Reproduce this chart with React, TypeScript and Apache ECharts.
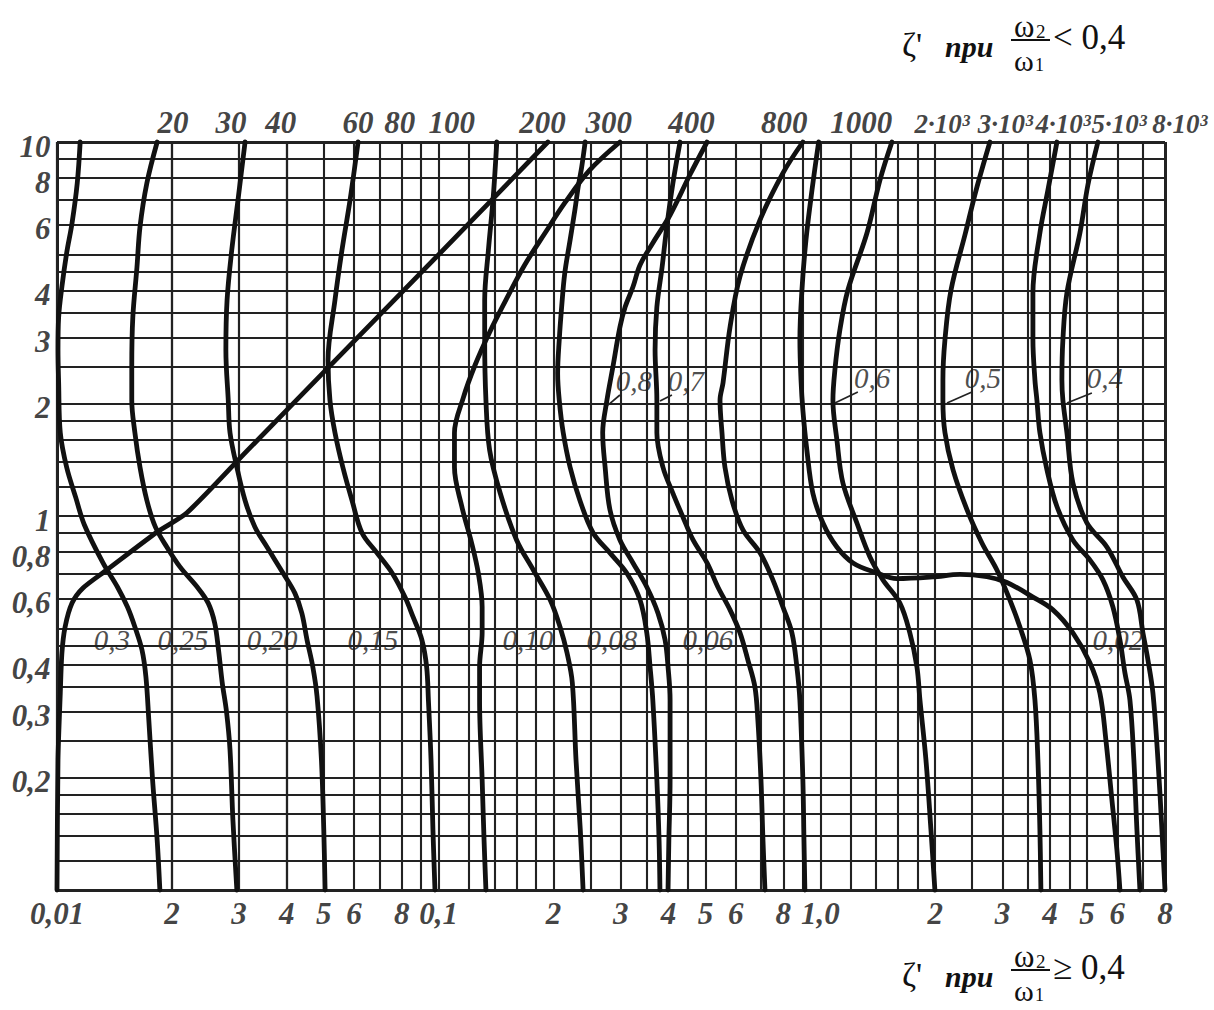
import React, { useEffect, useRef } from "react";
import * as echarts from "echarts";

// ---------------- data ----------------
const xGridLines = [0.01, 0.012, 0.014, 0.016, 0.018, 0.02, 0.025, 0.03, 0.035, 0.04, 0.045, 0.05, 0.06, 0.07, 0.08, 0.09,
  0.1, 0.12, 0.14, 0.16, 0.18, 0.2, 0.25, 0.3, 0.35, 0.4, 0.45, 0.5, 0.6, 0.7, 0.8, 0.9,
  1, 1.2, 1.4, 1.6, 1.8, 2, 2.5, 3, 3.5, 4, 4.5, 5, 6, 7, 8];
const yGridLines = [0.1, 0.12, 0.14, 0.16, 0.18, 0.2, 0.25, 0.3, 0.35, 0.4, 0.45, 0.5, 0.6, 0.7, 0.8, 0.9,
  1, 1.2, 1.4, 1.6, 1.8, 2, 2.5, 3, 3.5, 4, 4.5, 5, 6, 7, 8, 9, 10];
const frameX = [0.01, 8];
const frameY = [0.1, 10];

const bottomTickValues = [0.01, 0.02, 0.03, 0.04, 0.05, 0.06, 0.08, 0.1, 0.2, 0.3, 0.4, 0.5, 0.6, 0.8, 1, 2, 3, 4, 5, 6, 8];
const bottomTickLabels = ["0,01", "2", "3", "4", "5", "6", "8", "0,1", "2", "3", "4", "5", "6", "8", "1,0", "2", "3", "4", "5", "6", "8"];
const leftTickValues = [10, 8, 6, 4, 3, 2, 1, 0.8, 0.6, 0.4, 0.3, 0.2];
const leftTickLabels = ["10", "8", "6", "4", "3", "2", "1", "0,8", "0,6", "0,4", "0,3", "0,2"];
const topTickValues = [0.02, 0.03, 0.04, 0.06, 0.08, 0.1, 0.2, 0.3, 0.4, 0.8, 1, 2, 3, 4, 5, 8];
const topTickLabels = ["20", "30", "40", "60", "80", "100", "200", "300", "400", "800", "1000", "2·10³", "3·10³", "4·10³", "5·10³", "8·10³"];

const curve03 = [[0.0115, 10], [0.0113, 7.77], [0.01095, 6.07], [0.0106, 5.05], [0.0103, 4.1], [0.0101, 3.4], [0.01006, 2.78], [0.0101, 2.27], [0.0102, 1.67], [0.0106, 1.35], [0.0112, 1.12], [0.0118, 0.946], [0.0132, 0.749], [0.0144, 0.646], [0.0153, 0.571], [0.016, 0.505], [0.0167, 0.438], [0.0171, 0.371], [0.0174, 0.285], [0.0178, 0.197], [0.0183, 0.136], [0.0186, 0.1]];
const curve025 = [[0.0183, 10], [0.0172, 7.77], [0.0165, 5.93], [0.0162, 4.63], [0.0158, 3.4], [0.0157, 2.5], [0.0157, 2.04], [0.016, 1.67], [0.0165, 1.35], [0.0172, 1.1], [0.0181, 0.935], [0.0194, 0.826], [0.021, 0.731], [0.0233, 0.646], [0.0249, 0.585], [0.0259, 0.517], [0.0265, 0.438], [0.0271, 0.358], [0.0278, 0.3], [0.0284, 0.237], [0.0289, 0.154], [0.0296, 0.1]];
const curve020 = [[0.0311, 10], [0.0298, 7.0], [0.0287, 5.14], [0.0279, 3.78], [0.0277, 2.78], [0.0281, 2.04], [0.0284, 1.67], [0.0296, 1.35], [0.0311, 1.1], [0.033, 0.935], [0.0355, 0.826], [0.0391, 0.704], [0.042, 0.622], [0.0438, 0.55], [0.0452, 0.466], [0.0468, 0.395], [0.048, 0.33], [0.0493, 0.223], [0.05, 0.145], [0.0504, 0.1]];
const curve015 = [[0.0615, 10], [0.0586, 7.0], [0.0558, 5.14], [0.0535, 3.78], [0.0513, 2.61], [0.0519, 2.04], [0.0535, 1.67], [0.0561, 1.35], [0.0593, 1.1], [0.063, 0.901], [0.0689, 0.797], [0.0755, 0.704], [0.0816, 0.607], [0.0857, 0.537], [0.0904, 0.466], [0.093, 0.395], [0.094, 0.322], [0.0955, 0.223], [0.0966, 0.145], [0.0978, 0.1]];
const curve010 = [[0.142, 10], [0.139, 7.13], [0.135, 5.14], [0.132, 3.78], [0.132, 2.96], [0.133, 2.04], [0.136, 1.5], [0.145, 1.15], [0.16, 0.863], [0.177, 0.717], [0.196, 0.596], [0.208, 0.505], [0.217, 0.43], [0.224, 0.358], [0.229, 0.223], [0.235, 0.145], [0.239, 0.1]];
const curve008 = [[0.242, 10], [0.237, 8.57], [0.232, 7.58], [0.2275, 6.58], [0.221, 5.47], [0.214, 4.46], [0.21, 3.62], [0.207, 2.96], [0.205, 2.41], [0.207, 2.04], [0.212, 1.67], [0.221, 1.35], [0.2345, 1.1], [0.254, 0.901], [0.281, 0.797], [0.311, 0.704], [0.337, 0.596], [0.351, 0.487], [0.358, 0.395], [0.364, 0.322], [0.373, 0.197], [0.378, 0.136], [0.38, 0.1]];
const curve08 = [[0.505, 10], [0.455, 8.16], [0.404, 6.38], [0.364, 5.37], [0.337, 4.69], [0.323, 4.1], [0.308, 3.62], [0.2985, 3.2], [0.286, 2.5], [0.276, 2.04], [0.269, 1.67], [0.273, 1.35], [0.281, 1.04], [0.2985, 0.863], [0.323, 0.749], [0.351, 0.646], [0.3755, 0.55], [0.392, 0.466], [0.399, 0.395], [0.404, 0.322], [0.404, 0.197], [0.401, 0.136], [0.399, 0.1]];
const curve07 = [[0.429, 10], [0.411, 7.77], [0.396, 5.93], [0.385, 4.63], [0.373, 3.62], [0.369, 2.78], [0.373, 2.04], [0.373, 1.67], [0.387, 1.35], [0.411, 1.15], [0.4365, 0.994], [0.464, 0.863], [0.505, 0.749], [0.539, 0.646], [0.58, 0.561], [0.616, 0.487], [0.646, 0.412], [0.674, 0.349], [0.686, 0.285], [0.699, 0.197], [0.7075, 0.136], [0.716, 0.1]];
const curve006 = [[0.9, 10], [0.798, 8.26], [0.695, 6.19], [0.616, 4.37], [0.58, 3.2], [0.556, 2.27], [0.546, 2.04], [0.5525, 1.67], [0.5625, 1.35], [0.587, 1.1], [0.627, 0.918], [0.695, 0.797], [0.751, 0.675], [0.798, 0.571], [0.8425, 0.487], [0.868, 0.395], [0.884, 0.322], [0.9, 0.197], [0.906, 0.136], [0.911, 0.1]];
const curvePlateau = [[0.99, 10], [0.951, 7.44], [0.917, 5.47], [0.895, 4.02], [0.884, 2.96], [0.89, 2.31], [0.9, 1.92], [0.922, 1.5], [0.956, 1.15], [1.016, 0.958], [1.105, 0.826], [1.218, 0.749], [1.407, 0.704], [1.587, 0.68], [1.972, 0.687], [2.322, 0.698], [2.732, 0.688], [3.082, 0.664], [3.606, 0.607], [4.069, 0.561], [4.59, 0.487], [5.085, 0.405], [5.402, 0.336], [5.6, 0.252], [5.808, 0.174], [5.985, 0.128], [6.095, 0.1]];
const curve06 = [[1.54, 10], [1.433, 7.91], [1.325, 5.71], [1.181, 4.02], [1.125, 3.14], [1.092, 2.46], [1.079, 2.04], [1.105, 1.6], [1.146, 1.225], [1.247, 0.958], [1.349, 0.777], [1.459, 0.675], [1.616, 0.585], [1.716, 0.487], [1.791, 0.395], [1.824, 0.322], [1.891, 0.223], [1.949, 0.145], [1.996, 0.1]];
const curve05 = [[2.782, 10], [2.56, 7.44], [2.4, 5.71], [2.2, 4.02], [2.121, 2.96], [2.095, 2.31], [2.095, 2.04], [2.121, 1.67], [2.226, 1.33], [2.422, 1.04], [2.651, 0.847], [2.902, 0.717], [3.139, 0.596], [3.334, 0.505], [3.541, 0.412], [3.65, 0.322], [3.716, 0.223], [3.761, 0.145], [3.784, 0.1]];
const curve002 = [[4.168, 10], [3.948, 7.44], [3.761, 5.71], [3.606, 3.95], [3.606, 2.96], [3.65, 2.31], [3.694, 2.04], [3.761, 1.67], [3.924, 1.33], [4.168, 1.06], [4.59, 0.863], [5.085, 0.763], [5.501, 0.675], [5.843, 0.571], [6.095, 0.466], [6.281, 0.381], [6.474, 0.322], [6.63, 0.223], [6.753, 0.145], [6.877, 0.1]];
const curve04 = [[5.337, 10], [5.025, 7.68], [4.788, 5.71], [4.427, 3.95], [4.321, 2.96], [4.295, 2.31], [4.321, 2.04], [4.427, 1.67], [4.59, 1.225], [4.994, 0.958], [5.636, 0.826], [6.206, 0.687], [6.753, 0.596], [7.003, 0.487], [7.218, 0.412], [7.439, 0.336], [7.666, 0.223], [7.852, 0.145], [8.0, 0.1]];
const diagonal1 = [[0.1933, 10], [0.1, 5.0], [0.0515, 2.5], [0.0316, 1.5], [0.0219, 1.02], [0.0183, 0.906], [0.0135, 0.717], [0.0117, 0.642], [0.01095, 0.585], [0.0105, 0.505], [0.0103, 0.43], [0.0102, 0.336], [0.01006, 0.223], [0.01, 0.1]];
const diagonal2 = [[0.2985, 10], [0.249, 8.42], [0.214, 6.87], [0.19, 5.71], [0.168, 4.69], [0.151, 3.83], [0.136, 3.1], [0.1245, 2.53], [0.116, 2.07], [0.11, 1.67], [0.11, 1.35], [0.115, 1.06], [0.122, 0.847], [0.127, 0.704], [0.13, 0.571], [0.13, 0.487], [0.128, 0.395], [0.128, 0.322], [0.13, 0.197], [0.1315, 0.136], [0.133, 0.1]];

const curveParamLabels = ["0,3", "0,25", "0,20", "0,15", "0,10", "0,08", "0,06", "0,02", "0,8", "0,7", "0,6", "0,5", "0,4"];

// ---------------- layout (not data) ----------------
const allCurves = [curve03, curve025, curve020, curve015, curve010, curve008, curve08, curve07, curve006, curvePlateau, curve06, curve05, curve002, curve04, diagonal2];
const curveLabelAnchors = [[0.01393, 0.466], [0.02138, 0.466], [0.03659, 0.466], [0.06729, 0.466], [0.1714, 0.466], [0.2844, 0.466], [0.5077, 0.466], [6.02, 0.466],
  [0.3249, 2.296], [0.4446, 2.296], [1.366, 2.339], [2.667, 2.339], [5.568, 2.339]];
const leaderLines = [
  [[0.2985, 2.106], [0.2777, 1.98]],
  [[0.4085, 2.106], [0.3801, 2.03]],
  [[1.254, 2.145], [1.092, 2.005]],
  [[2.496, 2.145], [2.147, 2.005]],
  [[5.147, 2.133], [4.427, 2.005]],
];
const topTickShift = [1, -8, -6, 4, -2, 13, -11, -12, 23, 1, 41, 7, 3, 13, 32, 15];
const topTickSize = [31, 31, 31, 31, 31, 31, 31, 31, 31, 31, 31, 27, 27, 27, 27, 27];

const FONT = "'Liberation Serif', 'Times New Roman', serif";
const INK = "#111";

function txt(text: string, x: number, y: number, font: string, align = "left") {
  return {
    type: "text",
    x, y,
    silent: true,
    style: { text, font, fill: INK, align, verticalAlign: "middle", textAlign: align, textVerticalAlign: "middle" },
  };
}

function titleBlock(yc: number, relation: string) {
  return [
    txt("ζ'", 902, yc + 4, `34px ${FONT}`),
    txt("при", 945, yc + 6, `italic bold 30px ${FONT}`),
    txt("ω", 1014, yc - 14, `31px ${FONT}`),
    txt("2", 1036, yc - 9, `19px ${FONT}`),
    { type: "line", silent: true, shape: { x1: 1011, y1: yc, x2: 1050, y2: yc }, style: { stroke: INK, lineWidth: 1.8 } },
    txt("ω", 1014, yc + 20, `30px ${FONT}`),
    txt("1", 1035, yc + 25, `18px ${FONT}`),
    txt(relation, 1053, yc - 3, `35px ${FONT}`),
  ];
}

export default function App() {
  const ref = useRef<HTMLDivElement>(null);
  useEffect(() => {
    const chart = echarts.init(ref.current as HTMLDivElement, null, { renderer: "svg" });

    const gridMarks: any[] = [];
    xGridLines.forEach((v) => gridMarks.push({ xAxis: v, lineStyle: { width: frameX.includes(v) ? 3 : 2.1 } }));
    yGridLines.forEach((v) => gridMarks.push({ yAxis: v, lineStyle: { width: frameY.includes(v) ? 3 : 2.1 } }));

    const tickLabelStyle = { fontFamily: FONT, fontStyle: "italic", fontWeight: "bold", fontSize: 31, color: INK };
    const hidden = { color: "rgba(0,0,0,0)" };

    const series: any[] = [
      {
        type: "line",
        data: [],
        silent: true,
        clip: false,
        markLine: {
          silent: true,
          z: 1,
          symbol: ["none", "none"],
          label: { show: false },
          emphasis: { disabled: true },
          lineStyle: { color: "#222", width: 2.1, type: "solid" },
          data: gridMarks,
        },
      },
      ...allCurves.map((c) => ({
        type: "line",
        data: c,
        smooth: 0.35,
        symbol: "none",
        silent: true,
        clip: false,
        z: 10,
        lineStyle: { color: INK, width: 4.8, cap: "round", join: "round" },
      })),
      {
        type: "line",
        data: diagonal1,
        smooth: 0.25,
        symbol: "none",
        silent: true,
        clip: false,
        z: 10,
        lineStyle: { color: INK, width: 4.8, cap: "round", join: "round" },
      },
      ...leaderLines.map((c) => ({
        type: "line",
        data: c,
        symbol: "none",
        silent: true,
        z: 11,
        lineStyle: { color: "#222", width: 1.7 },
      })),
      {
        type: "scatter",
        data: bottomTickValues.map((v) => [v, 0.1]),
        symbolSize: 1,
        itemStyle: hidden,
        silent: true,
        clip: false,
        z: 20,
        label: { show: true, position: "bottom", distance: 7, formatter: (p: any) => bottomTickLabels[p.dataIndex], ...tickLabelStyle },
      },
      {
        type: "scatter",
        data: leftTickValues.map((v) => [0.01, v]),
        symbolSize: 1,
        itemStyle: hidden,
        silent: true,
        clip: false,
        z: 20,
        label: { show: true, position: "left", distance: 6, offset: [0, 4], formatter: (p: any) => leftTickLabels[p.dataIndex], ...tickLabelStyle },
      },
      {
        type: "scatter",
        data: topTickValues.map((v, i) => ({ value: [v, 10], label: { offset: [topTickShift[i], 0], fontSize: topTickSize[i] } })),
        symbolSize: 1,
        itemStyle: hidden,
        silent: true,
        clip: false,
        z: 20,
        label: { show: true, position: "top", distance: 4, formatter: (p: any) => topTickLabels[p.dataIndex], ...tickLabelStyle },
      },
      {
        type: "scatter",
        data: curveLabelAnchors,
        symbolSize: 1,
        itemStyle: hidden,
        silent: true,
        clip: false,
        z: 20,
        label: {
          show: true, position: "inside", formatter: (p: any) => curveParamLabels[p.dataIndex],
          fontFamily: FONT, fontStyle: "italic", fontWeight: "normal", fontSize: 29, color: "#1e1e1e",
        },
      },
    ];

    chart.setOption({
      animation: false,
      backgroundColor: "#ffffff",
      grid: { left: 57, top: 142, width: 1108, height: 748 },
      xAxis: { type: "log", logBase: 10, min: 0.01, max: 8, show: false },
      yAxis: { type: "log", logBase: 10, min: 0.1, max: 10, show: false },
      series,
      graphic: [...titleBlock(40, "< 0,4"), ...titleBlock(970, "≥ 0,4")],
    });

    return () => chart.dispose();
  }, []);

  return (
    <div
      ref={ref}
      style={{ position: "absolute", left: 0, top: 0, width: 1214, height: 1010, background: "#fff" }}
    />
  );
}
